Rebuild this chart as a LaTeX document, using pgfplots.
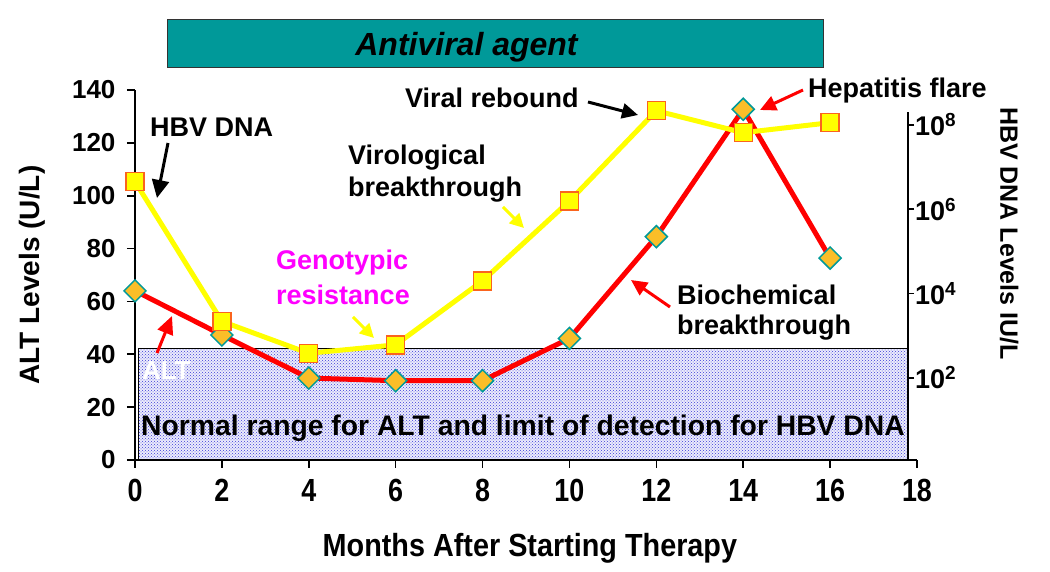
\documentclass[border=0pt]{standalone}
\usepackage{fontspec}
\setmainfont{Liberation Sans}
\newfontfamily\narrowfont[FakeStretch=0.84]{Liberation Sans}
\newfontfamily\xlabfont[FakeStretch=0.9]{Liberation Sans}
\usepackage{pgfplots}
\usepackage{pgfplotstable}
\pgfplotsset{compat=1.18}
\usetikzlibrary{patterns,arrows.meta}
\definecolor{redline}{RGB}{255,0,0}
\definecolor{yel}{RGB}{255,255,0}
\definecolor{sqedge}{RGB}{250,100,30}
\definecolor{goldc}{RGB}{250,190,40}
\definecolor{tealc}{RGB}{0,153,153}
\definecolor{magentac}{RGB}{255,0,255}
\definecolor{dotblue}{RGB}{60,60,215}
\definecolor{lav}{RGB}{236,236,252}

\pgfplotstableread{
x alt
0 64
2 47.3
4 31
6 30
8 30
10 46
12 84.5
14 132.7
16 76.4
}\alttable
\pgfplotstableread{
x dna
0 4.5e6
2 2.2e3
4 3.85e2
6 6.1e2
8 2.0e4
10 1.56e6
12 2.15e8
14 6.5e7
16 1.12e8
}\dnatable

\begin{document}
\begin{tikzpicture}
\begin{axis}[
  at={(0,0)}, anchor=south west,
  scale only axis, width=782pt, height=370pt,
  xmin=0, xmax=18, ymin=0, ymax=140,
  axis x line*=bottom, axis y line*=left,
  xtick={0,2,...,18}, ytick={0,20,...,140},
  tick align=outside, major tick length=8pt,
  every tick/.style={line width=1.6pt, black},
  axis line style={line width=1.6pt, black},
  /pgf/number format/assume math mode=true,
  yticklabel style={font=\fontsize{26}{30}\selectfont\bfseries, xshift=-8pt},
  xticklabel style={font=\narrowfont\fontsize{32}{36}\selectfont\bfseries, yshift=-8pt},
  xlabel={Months After Starting Therapy},
  ylabel={ALT Levels (U/L)},
  every axis x label/.style={at={(axis description cs:0.505,-0.238)}, anchor=center, font=\xlabfont\fontsize{32}{36}\selectfont\bfseries},
  every axis y label/.style={at={(axis description cs:-0.131,0.5)}, rotate=90, anchor=center, font=\fontsize{28}{32}\selectfont\bfseries},
  clip=false,
]
\fill[lav] (axis cs:0.09,0) rectangle (axis cs:17.8,42);
\fill[pattern=crosshatch dots, pattern color=dotblue] (axis cs:0.09,0) rectangle (axis cs:17.8,42);
\draw[line width=1pt, black] (axis cs:0.09,0) rectangle (axis cs:17.8,42);
\addplot[redline, line width=5pt, mark=square*, mark size=7.8pt,
  mark options={rotate=45, fill=goldc, draw=tealc, line width=1.5pt, solid}]
  table[x=x, y=alt]{\alttable};
\end{axis}
\begin{axis}[
  at={(0,0)}, anchor=south west,
  scale only axis, width=773pt, height=348pt,
  xmin=0, xmax=17.795,
  ymode=log, ymin=1.14, ymax=2.01e8,
  axis x line=none, axis y line*=right,
  ytick={1e2,1e4,1e6,1e8},
  yticklabels={10\textsuperscript{2},10\textsuperscript{4},10\textsuperscript{6},10\textsuperscript{8}},
  yminorticks=false,
  tick align=outside, major tick length=6pt,
  every tick/.style={line width=1.6pt, black},
  axis line style={line width=1.6pt, black},
  yticklabel style={font=\fontsize{27}{30}\selectfont\bfseries, anchor=west, inner sep=1pt},
  ylabel={HBV DNA Levels IU/L},
  every axis y label/.style={at={(axis description cs:1.131,0.651)}, rotate=-90, anchor=center, font=\fontsize{25}{30}\selectfont\bfseries},
  clip=false,
]
\addplot[yel, line width=5pt, mark=square*, mark size=9pt,
  mark options={fill=yel, draw=sqedge, line width=1.3pt, solid}]
  table[x=x, y=dna]{\dnatable};
\end{axis}
\begin{scope}[shift={(-135pt,460pt)}, x=1pt, y=-1pt]
  % top bar
  \fill[tealc] (167,20) rectangle (823,68);
  \draw[line width=1pt, black!80] (167,20) rectangle (823,68);
  \node[anchor=base, inner sep=0, font=\fontsize{32}{36}\selectfont\bfseries\itshape] at (466.5,56) {Antiviral agent};
  % box texts
  \node[anchor=base west, inner sep=0, font=\fontsize{28.3}{32}\selectfont\bfseries] at (141,436) {Normal range for ALT and limit of detection for HBV DNA};
  \node[anchor=base west, inner sep=0, text=white, font=\fontsize{26}{30}\selectfont\bfseries] at (142,380) {ALT};
  % annotations
  \node[anchor=base west, inner sep=0, font=\fontsize{27}{30}\selectfont\bfseries] at (150,137) {HBV DNA};
  \node[anchor=base west, inner sep=0, font=\fontsize{27}{30}\selectfont\bfseries] at (405,108) {Viral rebound};
  \node[anchor=base west, inner sep=0, font=\fontsize{27}{30}\selectfont\bfseries] at (808,98) {Hepatitis flare};
  \node[anchor=base west, inner sep=0, font=\fontsize{27}{30}\selectfont\bfseries] at (348,165) {Virological};
  \node[anchor=base west, inner sep=0, font=\fontsize{27}{30}\selectfont\bfseries] at (348,197) {breakthrough};
  \node[anchor=base west, inner sep=0, text=magentac, font=\fontsize{27}{30}\selectfont\bfseries] at (276,270) {Genotypic};
  \node[anchor=base west, inner sep=0, text=magentac, font=\fontsize{27}{30}\selectfont\bfseries] at (276,305) {resistance};
  \node[anchor=base west, inner sep=0, font=\fontsize{27}{30}\selectfont\bfseries] at (677,305) {Biochemical};
  \node[anchor=base west, inner sep=0, font=\fontsize{27}{30}\selectfont\bfseries] at (677,335) {breakthrough};
  % arrows
  \draw[line width=3pt, black, -{Triangle[length=18pt,width=17pt]}] (168,143) -- (157,198);
  \draw[line width=3pt, redline, -{Triangle[length=18pt,width=16pt]}] (157,353) -- (172,316);
  \draw[line width=3pt, black, -{Triangle[length=16pt,width=15pt]}] (588,102) -- (638,115);
  \draw[line width=3pt, redline, -{Triangle[length=16pt,width=15pt]}] (803,90) -- (760,110);
  \draw[line width=3pt, yel, -{Triangle[length=14pt,width=14pt]}] (503,207) -- (524,228);
  \draw[line width=3pt, yel, -{Triangle[length=14pt,width=14pt]}] (353,317) -- (374,338);
  \draw[line width=3pt, redline, -{Triangle[length=16pt,width=15pt]}] (670,307) -- (631,280);
  \pgfresetboundingbox
  \path[use as bounding box] (0,0) rectangle (1050,572);
\end{scope}
\end{tikzpicture}
\end{document}
